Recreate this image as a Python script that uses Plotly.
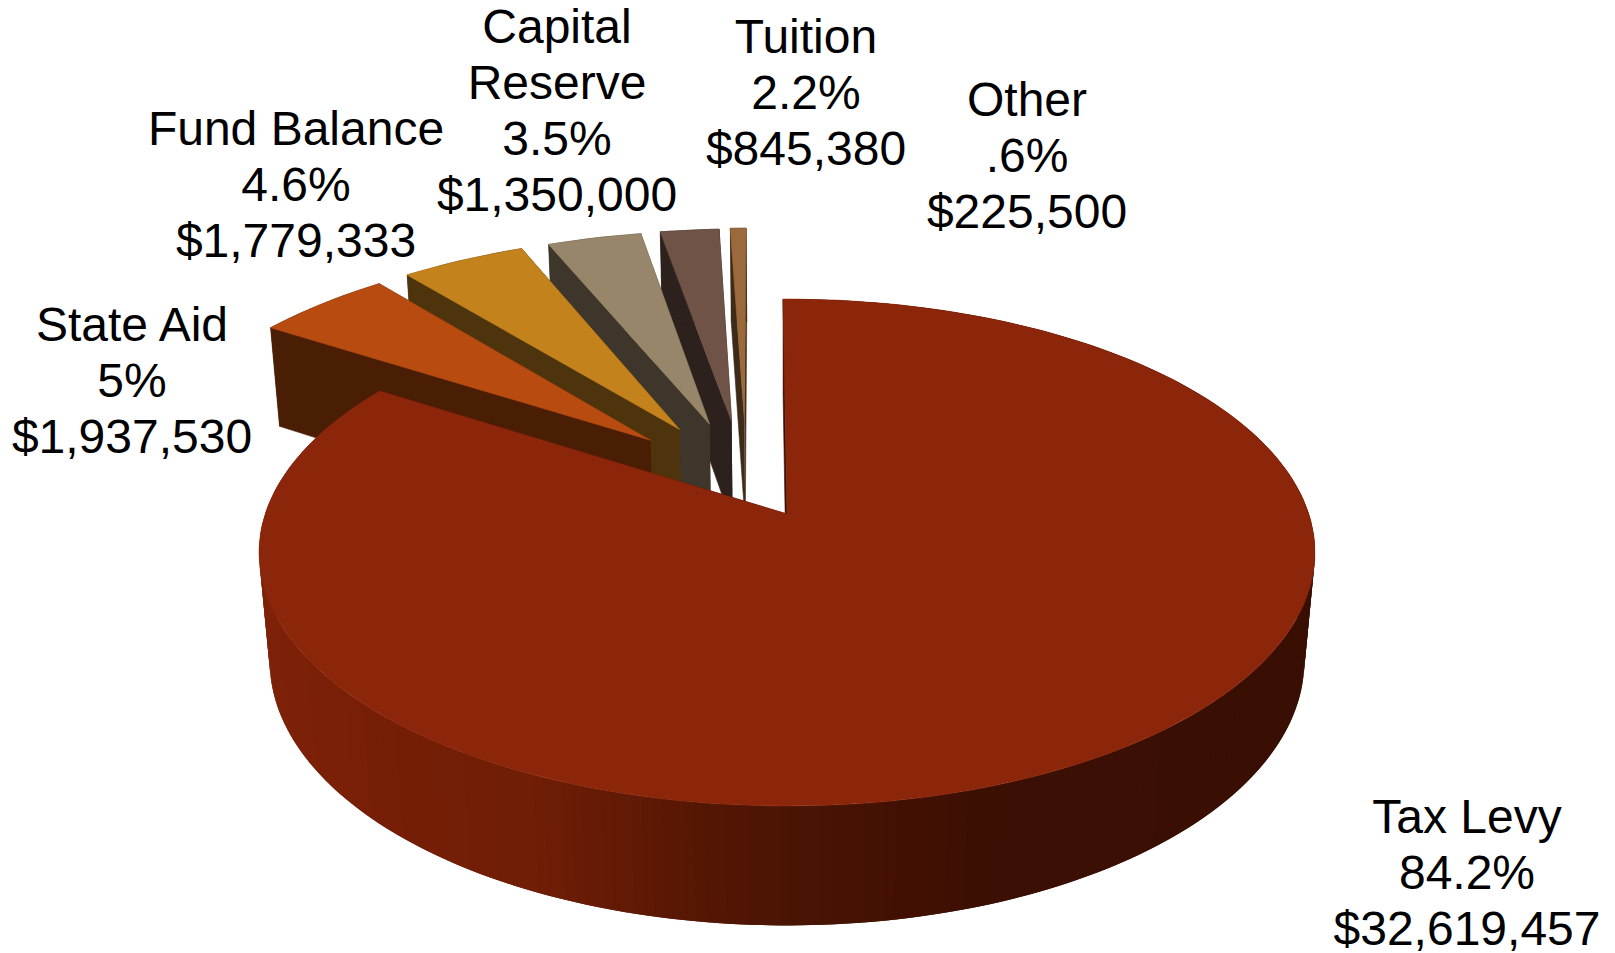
import numpy as np
import plotly.graph_objects as go

# ---- chart data ----
categories = ["Tax Levy", "State Aid", "Fund Balance", "Capital Reserve", "Tuition", "Other"]
values = [32619457, 1937530, 1779333, 1350000, 845380, 225500]
percent_labels = ["84.2%", "5%", "4.6%", "3.5%", "2.2%", ".6%"]

# ---- styling ----
top_colors = ["#8C260B", "#B84C10", "#C4821C", "#98866A", "#6E5346", "#9A6A3C"]
side_colors = ["#3A0F03", "#4A1E05", "#4E340C", "#3F362B", "#2C211C", "#3E2A18"]
# how far each slice is pulled out of the pie, in units of the radius (sideways, backwards)
pull = [(0.0, 0.0), (-0.274, 0.312), (-0.217, 0.360), (-0.157, 0.384), (-0.1125, 0.395), (-0.0865, 0.400)]
# label placement: centre x, first line centre y
label_lines = {
    "Tax Levy": (["Tax Levy"], 1467, 821),
    "State Aid": (["State Aid"], 132, 329),
    "Fund Balance": (["Fund Balance"], 296, 133),
    "Capital Reserve": (["Capital", "Reserve"], 557, 31),
    "Tuition": (["Tuition"], 806, 41),
    "Other": (["Other"], 1027, 104),
}
LINE_STEP = 56
FONT = dict(family="Liberation Sans, Arial, sans-serif", size=48, color="#000000")

# perspective model of the disc
CX, CY = 787.0, 514.0
RX, RY = 521.8, 247.6
K, M, H = 0.152, 0.02, 109.5
ROTATION = 0.5  # degrees

side_stops_x = [270, 400, 540, 640, 720, 800, 900, 1000, 1320]
side_stops_rgb = [(126, 34, 9), (118, 31, 6), (112, 30, 6), (96, 26, 5), (84, 22, 4),
                  (74, 21, 4), (67, 17, 3), (60, 15, 3), (58, 15, 3)]


def project(X, Y, z):
    w = 1 + K * Y + M * z
    return CX + RX * X / w, CY - (RY * Y - H * z) / w


def polar(a_deg, off):
    a = np.radians(a_deg)
    # angle a is measured clockwise from 12 o'clock
    return np.sin(a) + off[0], np.cos(a) + off[1]


def poly(xs, ys, color, name=None, text=None, stroke=0.6):
    return go.Scatter(
        x=list(xs), y=list(ys), mode="lines", fill="toself", fillcolor=color,
        line=dict(color=color, width=stroke), showlegend=False,
        name=name or "", hoverinfo="text" if text else "skip", text=text,
    )


total = sum(values)
shares = [v / total * 360 for v in values]
starts = [-ROTATION + sum(shares[:i]) for i in range(len(values))]

fig = go.Figure()
order = [5, 4, 3, 2, 1, 0]
for i in order:
    a0, a1 = starts[i], starts[i] + shares[i]
    off = pull[i]
    n = max(6, int(shares[i] * 0.6))
    angs = np.linspace(a0, a1, n + 1)
    ax, ay = off
    # the two cut faces
    for a in (a1, a0):
        X, Y = polar(a, off)
        px, py = zip(project(ax, ay, 0), project(X, Y, 0), project(X, Y, 1), project(ax, ay, 1))
        fig.add_trace(poly(px, py, side_colors[i]))
    # outer rim
    if i == 0:
        # overlapping strips from right to left along the front, so no seams show
        fine = np.linspace(a0, a1, int(shares[i] * 3) + 1)
        for j in range(0, len(fine) - 1, 3):
            seg = fine[j:j + 7]  # each strip runs on under the next one
            X, Y = polar(seg, off)
            tx, ty = project(X, Y, 0)
            bx, by = project(X, Y, 1)
            mid_x = project(*polar(fine[j], off), 0.5)[0]
            rgb = [np.interp(mid_x, side_stops_x, [c[k] for c in side_stops_rgb]) for k in range(3)]
            col = "rgb(%d,%d,%d)" % tuple(rgb)
            fig.add_trace(poly(np.r_[tx, bx[::-1]], np.r_[ty, by[::-1]], col, stroke=0))
    else:
        X, Y = polar(angs, off)
        bx, by = project(X, Y, 1)
        tx, ty = project(X, Y, 0)
        fig.add_trace(poly(np.r_[tx, bx[::-1]], np.r_[ty, by[::-1]], side_colors[i]))
    # top face
    X, Y = polar(angs, off)
    tx, ty = project(X, Y, 0)
    a_x, a_y = project(ax, ay, 0)
    hover = "%s<br>%s<br>$%s" % (categories[i], percent_labels[i], format(values[i], ","))
    fig.add_trace(poly(np.r_[a_x, tx, a_x], np.r_[a_y, ty, a_y], top_colors[i],
                       name=categories[i], text=hover))

# labels, one text mark per line
lx, ly, lt = [], [], []
for i, cat in enumerate(categories):
    lines, x0, y0 = label_lines[cat]
    rows = lines + [percent_labels[i], "$" + format(values[i], ",")]
    for r, row in enumerate(rows):
        lx.append(x0)
        ly.append(y0 + r * LINE_STEP)
        lt.append(row)
fig.add_trace(go.Scatter(x=lx, y=ly, text=lt, mode="text", textposition="middle center",
                         textfont=FONT, showlegend=False, hoverinfo="skip", cliponaxis=False))

fig.update_layout(
    width=1615, height=953, margin=dict(l=0, r=0, t=0, b=0),
    paper_bgcolor="white", plot_bgcolor="white", showlegend=False,
    xaxis=dict(range=[0, 1615], visible=False, fixedrange=True),
    yaxis=dict(range=[953, 0], visible=False, fixedrange=True),
)
fig.write_html("out.html", config={"displayModeBar": False},
               post_script="document.body.style.margin='0';document.body.style.overflow='hidden';")
